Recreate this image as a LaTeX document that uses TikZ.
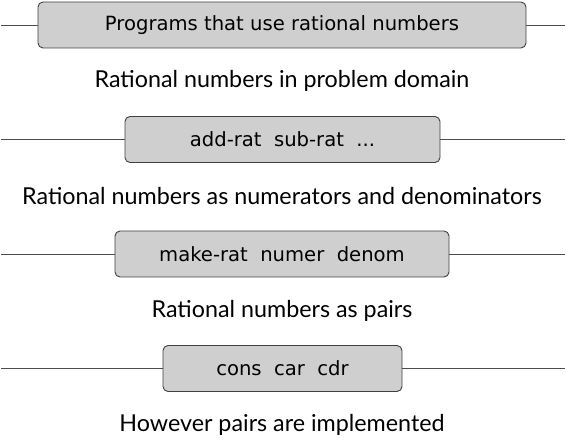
\documentclass[tikz,border=0pt]{standalone}
\usepackage{fontspec}
\newfontfamily\boxfont{DejaVu Sans}
\newfontfamily\labfont{Lato}
\begin{document}
\begin{tikzpicture}[x=1pt,y=-1pt,
  layerbox/.style={draw=black!75, fill=black!19, rounded corners=5pt, line width=0.9pt, inner sep=0pt, font=\boxfont\fontsize{19.6}{22}\selectfont},
  wire/.style={draw=black!70, line width=0.9pt},
  lab/.style={font=\labfont\fontsize{23.3}{26}\selectfont, inner sep=0pt}]
\useasboundingbox (0,0) rectangle (566,441);
\node[layerbox, minimum width=488pt, minimum height=46pt] (b1) at (282,25) {Programs that use rational numbers};
\node[layerbox, minimum width=315pt, minimum height=46pt] (b2) at (282.5,139.5) {add-rat\ \ sub-rat\ \ ...};
\node[layerbox, minimum width=334pt, minimum height=46pt] (b3) at (282,254) {make-rat\ \ numer\ \ denom};
\node[layerbox, minimum width=239pt, minimum height=46pt] (b4) at (282.5,368.5) {cons\ \ car\ \ cdr};
\coordinate (l1) at (1,25); \coordinate (r1) at (565,25);
\coordinate (l2) at (1,139.5); \coordinate (r2) at (565,139.5);
\coordinate (l3) at (1,254); \coordinate (r3) at (565,254);
\coordinate (l4) at (1,368.5); \coordinate (r4) at (565,368.5);
\draw[wire] (l1) -- (b1.west); \draw[wire] (b1.east) -- (r1);
\draw[wire] (l2) -- (b2.west); \draw[wire] (b2.east) -- (r2);
\draw[wire] (l3) -- (b3.west); \draw[wire] (b3.east) -- (r3);
\draw[wire] (l4) -- (b4.west); \draw[wire] (b4.east) -- (r4);
\node[lab] (t1) at (282,81) {Rational numbers in problem domain};
\node[lab] (t2) at (282,196) {Rational numbers as numerators and denominators};
\node[lab] (t3) at (282,311) {Rational numbers as pairs};
\node[lab] (t4) at (282,425) {However pairs are implemented};
\end{tikzpicture}
\end{document}
